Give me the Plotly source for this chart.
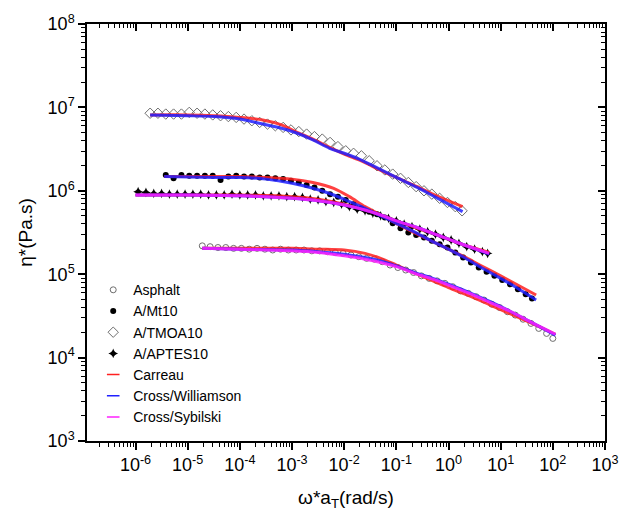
import plotly.graph_objects as go

# ---------------- data (log10 values) ----------------
# Asphalt (open circles)
asphalt_logw = [-4.72,-4.57,-4.42,-4.27,-4.12,-3.97,-3.82,-3.67,-3.52,-3.37,-3.22,-3.07,-2.92,-2.77,-2.62,-2.47,
                -2.32,-2.17,-2.02,-1.87,-1.72,-1.57,-1.42,-1.27,-1.12,-0.97,-0.82,-0.67,-0.52,-0.37,-0.22,-0.07,
                0.08,0.23,0.38,0.53,0.68,0.83,0.98,1.13,1.28,1.43,1.58,1.73,1.88,2.00]
asphalt_logeta = [5.34,5.33,5.32,5.32,5.31,5.31,5.30,5.31,5.30,5.29,5.30,5.29,5.29,5.29,5.28,5.28,
                  5.27,5.26,5.25,5.23,5.21,5.19,5.18,5.15,5.11,5.08,5.05,5.02,4.98,4.95,4.92,4.89,
                  4.85,4.80,4.77,4.73,4.69,4.64,4.60,4.55,4.51,4.46,4.41,4.35,4.29,4.23]

# A/Mt10 (filled circles)
mt10_logw = [-5.42,-5.27,-5.12,-4.97,-4.82,-4.67,-4.52,-4.37,-4.22,-4.07,-3.92,-3.77,-3.62,-3.47,-3.32,-3.17,
             -3.02,-2.87,-2.72,-2.57,-2.42,-2.27,-2.12,-1.97,-1.82,-1.67,-1.52,-1.37,-1.22,-1.07,-0.92,-0.77,
             -0.62,-0.47,-0.32,-0.17,-0.02,0.13,0.28,0.43,0.58,0.73,0.88,1.03,1.18,1.33,1.48,1.60]
mt10_logeta = [6.19,6.15,6.19,6.18,6.18,6.18,6.18,6.13,6.17,6.18,6.17,6.17,6.16,6.16,6.15,6.14,
               6.12,6.10,6.07,6.04,6.00,5.96,5.93,5.89,5.84,5.79,5.75,5.72,5.68,5.61,5.55,5.50,
               5.47,5.44,5.40,5.36,5.32,5.26,5.20,5.14,5.08,5.03,4.98,4.93,4.88,4.82,4.76,4.71]

# A/TMOA10 (open diamonds)
tmoa10_logw = [-5.72,-5.57,-5.42,-5.27,-5.12,-4.97,-4.82,-4.67,-4.52,-4.37,-4.22,-4.07,-3.92,-3.77,-3.62,-3.47,
               -3.32,-3.17,-3.02,-2.87,-2.72,-2.57,-2.42,-2.27,-2.12,-1.97,-1.82,-1.67,-1.52,-1.37,-1.22,-1.07,
               -0.92,-0.77,-0.62,-0.47,-0.32,-0.17,-0.02,0.13,0.26]
tmoa10_logeta = [6.93,6.93,6.92,6.92,6.92,6.94,6.93,6.92,6.91,6.90,6.89,6.88,6.86,6.84,6.82,6.80,
                 6.78,6.76,6.73,6.71,6.68,6.65,6.62,6.58,6.53,6.48,6.45,6.42,6.36,6.30,6.25,6.20,
                 6.15,6.10,6.05,6.00,5.96,5.91,5.86,5.81,5.76]

# A/APTES10 (small filled stars)
aptes10_logw = [-5.95,-5.80,-5.65,-5.50,-5.35,-5.20,-5.05,-4.90,-4.75,-4.60,-4.45,-4.30,-4.15,-4.00,-3.85,-3.70,
                -3.55,-3.40,-3.25,-3.10,-2.95,-2.80,-2.65,-2.50,-2.35,-2.20,-2.05,-1.90,-1.75,-1.60,-1.45,-1.30,
                -1.15,-1.00,-0.85,-0.70,-0.55,-0.40,-0.25,-0.10,0.05,0.20,0.35,0.50,0.65,0.75]
aptes10_logeta = [5.99,5.98,5.97,5.97,5.96,5.96,5.96,5.96,5.96,5.95,5.95,5.95,5.96,5.95,5.95,5.95,
                  5.94,5.94,5.94,5.93,5.93,5.92,5.90,5.89,5.87,5.86,5.84,5.81,5.78,5.76,5.73,5.70,
                  5.67,5.64,5.60,5.57,5.54,5.51,5.48,5.44,5.41,5.37,5.33,5.30,5.27,5.25]

# ---------------- model fits (log10) ----------------
tmoa10_fit_logw = [-5.72,-5.0,-4.5,-4.0,-3.56,-3.2,-2.9,-2.6,-2.28,-2.0,-1.64,-1.32,-1.0,-0.6,-0.3,0.0,0.27]
tmoa10_carreau = [6.91,6.91,6.90,6.88,6.85,6.79,6.70,6.62,6.52,6.44,6.35,6.25,6.16,6.05,5.96,5.88,5.81]
tmoa10_williamson = [6.91,6.90,6.89,6.86,6.80,6.75,6.69,6.61,6.51,6.45,6.36,6.26,6.16,6.04,5.94,5.84,5.75]

mt10_fit_logw = [-5.45,-4.5,-4.0,-3.5,-3.0,-2.6,-2.2,-1.9,-1.6,-1.3,-1.0,-0.6,-0.3,0.0,0.3,0.6,1.0,1.3,1.68]
mt10_carreau = [6.17,6.17,6.17,6.16,6.14,6.10,6.03,5.93,5.81,5.71,5.61,5.48,5.39,5.30,5.21,5.11,4.98,4.88,4.75]
mt10_williamson = [6.17,6.16,6.16,6.14,6.09,6.03,5.95,5.87,5.79,5.70,5.61,5.49,5.39,5.30,5.20,5.09,4.95,4.84,4.69]

aptes10_fit_logw = [-6.0,-5.0,-4.0,-3.0,-2.5,-2.0,-1.6,-1.3,-1.0,-0.6,-0.3,0.0,0.3,0.78]
aptes10_carreau = [5.95,5.95,5.95,5.93,5.90,5.84,5.77,5.71,5.64,5.55,5.49,5.42,5.35,5.26]
aptes10_williamson = [5.95,5.95,5.94,5.91,5.88,5.83,5.77,5.71,5.64,5.56,5.49,5.42,5.35,5.24]
aptes10_sybilski = [5.95,5.95,5.94,5.91,5.88,5.83,5.77,5.71,5.64,5.56,5.49,5.42,5.35,5.25]

asphalt_fit_logw = [-4.72,-4.0,-3.0,-2.5,-2.0,-1.6,-1.3,-1.0,-0.6,-0.3,0.0,0.4,0.8,1.2,1.6,2.05]
asphalt_carreau = [5.31,5.31,5.31,5.30,5.29,5.25,5.19,5.11,5.00,4.92,4.84,4.74,4.63,4.52,4.41,4.28]
asphalt_williamson = [5.31,5.30,5.29,5.27,5.24,5.20,5.16,5.10,5.01,4.95,4.88,4.78,4.67,4.55,4.42,4.27]
asphalt_sybilski = [5.31,5.30,5.28,5.26,5.22,5.18,5.14,5.09,5.00,4.94,4.87,4.77,4.66,4.55,4.42,4.28]

series_names = ["Asphalt", "A/Mt10", "A/TMOA10", "A/APTES10"]
model_names = ["Carreau", "Cross/Williamson", "Cross/Sybilski"]
x_tick_exponents = [-6, -5, -4, -3, -2, -1, 0, 1, 2, 3]
y_tick_exponents = [3, 4, 5, 6, 7, 8]


def pw(vals):
    return [10 ** v for v in vals]


def joined(pairs):
    xs, ys = [], []
    for lx, ly in pairs:
        xs += pw(lx) + [None]
        ys += pw(ly) + [None]
    return xs, ys


def power_labels(exps):
    return ["10<sup>%d</sup>" % e for e in exps]


FONT = "Liberation Sans, Arial, sans-serif"
GRAY = "#6e6e6e"

fig = go.Figure()

fig.add_trace(go.Scatter(x=pw(asphalt_logw), y=pw(asphalt_logeta), mode="markers", name=series_names[0],
                         marker=dict(symbol="circle-open", size=6, color=GRAY, line=dict(width=1))))
fig.add_trace(go.Scatter(x=pw(mt10_logw), y=pw(mt10_logeta), mode="markers", name=series_names[1],
                         marker=dict(symbol="circle", size=6, color="black")))
fig.add_trace(go.Scatter(x=pw(tmoa10_logw), y=pw(tmoa10_logeta), mode="markers", name=series_names[2],
                         marker=dict(symbol="diamond-open", size=8, color=GRAY, line=dict(width=1))))
fig.add_trace(go.Scatter(x=pw(aptes10_logw), y=pw(aptes10_logeta), mode="markers", name=series_names[3],
                         marker=dict(symbol="star-diamond", size=7, color="black")))

fits = [
    ("#ff2020", [(tmoa10_fit_logw, tmoa10_carreau), (mt10_fit_logw, mt10_carreau),
                 (aptes10_fit_logw, aptes10_carreau), (asphalt_fit_logw, asphalt_carreau)]),
    ("#2020ff", [(tmoa10_fit_logw, tmoa10_williamson), (mt10_fit_logw, mt10_williamson),
                 (aptes10_fit_logw, aptes10_williamson), (asphalt_fit_logw, asphalt_williamson)]),
    ("#ff20ff", [(aptes10_fit_logw, aptes10_sybilski), (asphalt_fit_logw, asphalt_sybilski)]),
]
for (color, pairs), name in zip(fits, model_names):
    xs, ys = joined(pairs)
    fig.add_trace(go.Scatter(x=xs, y=ys, mode="lines", name=name, showlegend=False,
                             line=dict(color=color, width=3, shape="spline", smoothing=0.8),
                             opacity=0.85, connectgaps=False))

for (color, _), name in zip(fits, model_names):
    fig.add_trace(go.Scatter(x=[None], y=[None], mode="markers", name=name,
                             marker=dict(symbol="line-ew-open", size=9, color=color,
                                         line=dict(color=color, width=1.5))))

# empty trace so that the mirrored (top / right) frame axes are drawn
fig.add_trace(go.Scatter(x=[None], y=[None], xaxis="x2", yaxis="y2", showlegend=False,
                         hoverinfo="skip", mode="markers"))

axis_common = dict(type="log", showgrid=False, zeroline=False, showline=True, linecolor="black",
                   linewidth=1.5, tickcolor="black", tickwidth=1.5, ticklen=7, tickangle=0,
                   automargin=False, tickfont=dict(family=FONT, size=18, color="black"))
minor_out = dict(ticks="outside", ticklen=4, tickcolor="black", tickwidth=1, dtick="D1", showgrid=False)
minor_in = dict(ticks="inside", ticklen=4, tickcolor="black", tickwidth=1, dtick="D1", showgrid=False)

x_tickvals = [10 ** e for e in x_tick_exponents]
y_tickvals = [10 ** e for e in y_tick_exponents]

fig.update_layout(
    width=619, height=517,
    margin=dict(l=87, r=14, t=24, b=76),
    paper_bgcolor="white", plot_bgcolor="white",
    font=dict(family=FONT, size=16, color="black"),
    xaxis=dict(**axis_common, range=[-6.93, 3], ticks="outside", minor=minor_out,
               tickvals=x_tickvals, ticktext=power_labels(x_tick_exponents),
               title=dict(text="ω*a<sub>T</sub>(rad/s)", font=dict(family=FONT, size=19), standoff=16)),
    yaxis=dict(**axis_common, range=[3, 8], ticks="outside", minor=minor_out,
               tickvals=y_tickvals, ticktext=power_labels(y_tick_exponents),
               title=dict(text="η*(Pa.s)", font=dict(family=FONT, size=19), standoff=10)),
    xaxis2=dict(**axis_common, range=[-6.93, 3], ticks="inside", minor=minor_in, overlaying="x",
                side="top", anchor="y2", showticklabels=False, tickvals=x_tickvals),
    yaxis2=dict(**axis_common, range=[3, 8], ticks="inside", minor=minor_in, overlaying="y",
                side="right", anchor="x2", showticklabels=False, tickvals=y_tickvals),
    legend=dict(x=0.012, y=0.4, xanchor="left", yanchor="top", bgcolor="rgba(0,0,0,0)",
                font=dict(family=FONT, size=14), itemwidth=30, tracegroupgap=0),
)

fig.write_html("out.html", config={"displayModeBar": False},
               post_script="document.body.style.margin='0px';")
